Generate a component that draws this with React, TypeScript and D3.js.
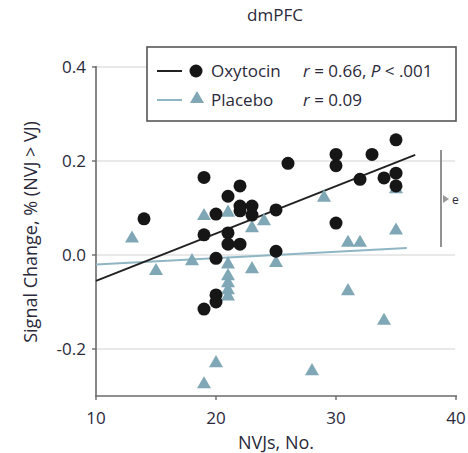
import React from "react";
import * as d3 from "d3";

const xTicks = [10, 20, 30, 40];
const yTicks = [-0.2, 0.0, 0.2, 0.4];

const oxyX = [14, 19, 19, 19, 20, 20, 20, 20, 21, 21, 21, 22, 22, 22, 22, 23, 23, 25, 25, 26, 30, 30, 30, 32, 33, 34, 35, 35, 35];
const oxyY = [0.077, 0.165, 0.043, -0.115, 0.087, -0.007, -0.085, -0.1, 0.125, 0.047, 0.023, 0.147, 0.104, 0.094, 0.023, 0.104, 0.085, 0.096, 0.008, 0.195, 0.214, 0.19, 0.068, 0.161, 0.214, 0.164, 0.245, 0.174, 0.147];

const plaX = [13, 15, 18, 19, 19, 20, 21, 21, 21, 21, 21, 21, 23, 23, 24, 25, 28, 29, 31, 32, 31, 34, 35, 35];
const plaY = [0.035, -0.034, -0.013, 0.083, -0.275, -0.23, 0.09, -0.02, -0.045, -0.06, -0.075, -0.088, 0.057, -0.03, 0.072, -0.017, -0.247, 0.122, 0.026, 0.026, -0.077, -0.14, 0.14, 0.052];

const oxyLineX = [10, 36.6];
const oxyLineY = [-0.055, 0.213];
const plaLineX = [10, 35.9];
const plaLineY = [-0.02, 0.015];

const FONT = "'Open Sans', 'Noto Sans', sans-serif";
const TEXT = "#2a2a3a";
const TRI = "#7fa7b6";

export default function App() {
  const x = d3.scaleLinear().domain([10, 40]).range([96, 456]);
  const y = d3.scaleLinear().domain([-0.3, 0.4]).range([396, 67]);
  const tri = d3.symbol(d3.symbolTriangle, 85)() as string;
  const line = d3.line<[number, number]>().x((d) => x(d[0])).y((d) => y(d[1]));
  const oxyLine = line(oxyLineX.map((v, i) => [v, oxyLineY[i]]));
  const plaLine = line(plaLineX.map((v, i) => [v, plaLineY[i]]));

  return (
    <svg width={468} height={453} style={{ position: "absolute", left: 0, top: 0, background: "#fff" }} fontFamily={FONT}>
      <text x={275} y={21} textAnchor="middle" fontSize={17} fill={TEXT}>dmPFC</text>
      {/* gridlines */}
      {yTicks.map((t, i) => (
        <line key={"g" + i} x1={96} x2={455} y1={y(t)} y2={y(t)} stroke="#e2e2e2" strokeWidth={1.6} />
      ))}
      {/* axes */}
      <line x1={96} x2={96} y1={y(0.4) - 1} y2={396} stroke="#6a6a6a" strokeWidth={1.6} />
      <line x1={95} x2={457} y1={396} y2={396} stroke="#6a6a6a" strokeWidth={1.6} />
      {yTicks.map((t) => (
        <g key={"yt" + t}>
          <line x1={92} x2={96} y1={y(t)} y2={y(t)} stroke="#6a6a6a" strokeWidth={1.4} />
          <text x={86} y={y(t) + 6} textAnchor="end" fontSize={17} fill={TEXT}>{t.toFixed(1)}</text>
        </g>
      ))}
      {xTicks.map((t) => (
        <g key={"xt" + t}>
          <line x1={x(t)} x2={x(t)} y1={396} y2={400} stroke="#6a6a6a" strokeWidth={1.4} />
          <text x={x(t)} y={424} textAnchor="middle" fontSize={17} fill={TEXT}>{t}</text>
        </g>
      ))}
      <text x={276} y={449} textAnchor="middle" fontSize={18} fill={TEXT}>NVJs, No.</text>
      <text transform={`translate(37,232) rotate(-90)`} textAnchor="middle" fontSize={18} fill={TEXT}>Signal Change, % (NVJ &gt; VJ)</text>

      {/* regression lines */}
      <path d={plaLine || ""} stroke="#8fb6c4" strokeWidth={2} fill="none" />
      <path d={oxyLine || ""} stroke="#222" strokeWidth={2} fill="none" />

      {plaX.map((v, i) => (
        <path key={"p" + i} d={tri} transform={`translate(${x(v)},${y(plaY[i])})`} fill={TRI} />
      ))}
      {oxyX.map((v, i) => (
        <circle key={"o" + i} cx={x(v)} cy={y(oxyY[i])} r={6.5} fill="#161616" />
      ))}

      {/* bracket */}
      <line x1={441} x2={441} y1={150} y2={247} stroke="#777" strokeWidth={1.6} />
      <path d="M443,195 L449,199 L443,203 Z" fill="#999" />
      <text x={452} y={204} fontSize={12} fill={TEXT}>e</text>

      {/* legend */}
      <rect x={147} y={47} width={309} height={74} fill="#fff" stroke="#555" strokeWidth={1.6} />
      <line x1={157} x2={182} y1={71} y2={71} stroke="#222" strokeWidth={2} />
      <circle cx={196} cy={71} r={6.5} fill="#161616" />
      <text x={211} y={77} fontSize={17} fill={TEXT}>Oxytocin</text>
      <line x1={157} x2={182} y1={100} y2={100} stroke="#8fb6c4" strokeWidth={2} />
      <path d={tri} transform="translate(197,99)" fill={TRI} />
      <text x={211} y={106} fontSize={17} fill={TEXT}>Placebo</text>
      <text x={303} y={77} fontSize={17} fill={TEXT}>
        <tspan fontStyle="italic">r</tspan> = 0.66, <tspan fontStyle="italic">P</tspan> &lt; .001
      </text>
      <text x={303} y={106} fontSize={17} fill={TEXT}>
        <tspan fontStyle="italic">r</tspan> = 0.09
      </text>
    </svg>
  );
}
